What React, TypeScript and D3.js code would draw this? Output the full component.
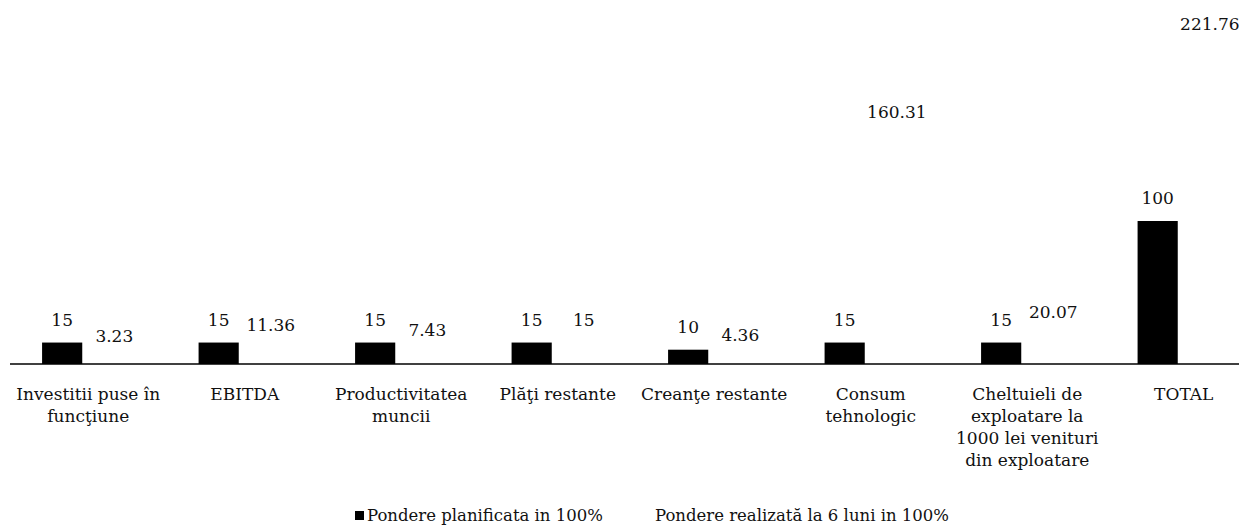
import React from 'react';
import * as d3 from 'd3';

const categories = [
  'Investitii puse în|funcţiune',
  'EBITDA',
  'Productivitatea|muncii',
  'Plăţi restante',
  'Creanţe restante',
  'Consum|tehnologic',
  'Cheltuieli de|exploatare la|1000 lei venituri|din exploatare',
  'TOTAL',
];
const planned = [15, 15, 15, 15, 10, 15, 15, 100];
const realized = [3.23, 11.36, 7.43, 15, 4.36, 160.31, 20.07, 221.76];
const plannedLabels = ['15', '15', '15', '15', '10', '15', '15', '100'];
const realizedLabels = ['3.23', '11.36', '7.43', '15', '4.36', '160.31', '20.07', '221.76'];
const seriesNames = ['Pondere planificata in 100%', 'Pondere realizată la 6 luni in 100%'];

const W = 1239;
const H = 526;
const font = "'DejaVu Serif', serif";

const App = () => {
  const baseY = 364;
  const x0 = d3.scaleBand<number>()
    .domain(d3.range(categories.length))
    .range([10, 1262])
    .paddingInner(0.41)
    .paddingOuter(0.205);
  const x1 = d3.scaleBand<number>()
    .domain([0, 1])
    .range([0, x0.bandwidth()])
    .paddingInner(0.23);
  const y = d3.scaleLinear().domain([0, 100]).range([baseY, baseY - 143]);

  const series = [planned, realized];
  const labels = [plannedLabels, realizedLabels];
  const fills = ['#000', '#fff'];

  return (
    <svg width={W} height={H} style={{ position: 'absolute', left: 0, top: 0, background: '#fff' }}>
      <rect width={W} height={H} fill="#fff" />
      {series.map((vals, s) => (
        <g key={s}>
          {vals.map((v, i) => {
            const bx = (x0(i) ?? 0) + (x1(s) ?? 0);
            return (
              <g key={i}>
                <rect x={bx} y={y(v)} width={x1.bandwidth()} height={baseY - y(v)} fill={fills[s]} />
                <text
                  x={bx + x1.bandwidth() / 2}
                  y={y(v) - 17}
                  textAnchor="middle"
                  fontFamily={font}
                  fontSize={17}
                  fill="#111"
                >
                  {labels[s][i]}
                </text>
              </g>
            );
          })}
        </g>
      ))}
      <line x1={10} x2={W} y1={baseY} y2={baseY} stroke="#000" strokeWidth={1.5} />
      {categories.map((c, i) => (
        <text
          key={c}
          x={(x0(i) ?? 0) + x0.bandwidth() / 2}
          y={400}
          textAnchor="middle"
          fontFamily={font}
          fontSize={17}
          fill="#111"
        >
          {c.split('|').map((line, k) => (
            <tspan key={k} x={(x0(i) ?? 0) + x0.bandwidth() / 2} dy={k === 0 ? 0 : 22}>
              {line}
            </tspan>
          ))}
        </text>
      ))}
      <g fontFamily={font} fontSize={16.5} fill="#111">
        <rect x={355} y={511} width={9} height={9} fill="#000" />
        <text x={367} y={521}>{seriesNames[0]}</text>
        <text x={655} y={521}>{seriesNames[1]}</text>
      </g>
    </svg>
  );
};

export default App;
